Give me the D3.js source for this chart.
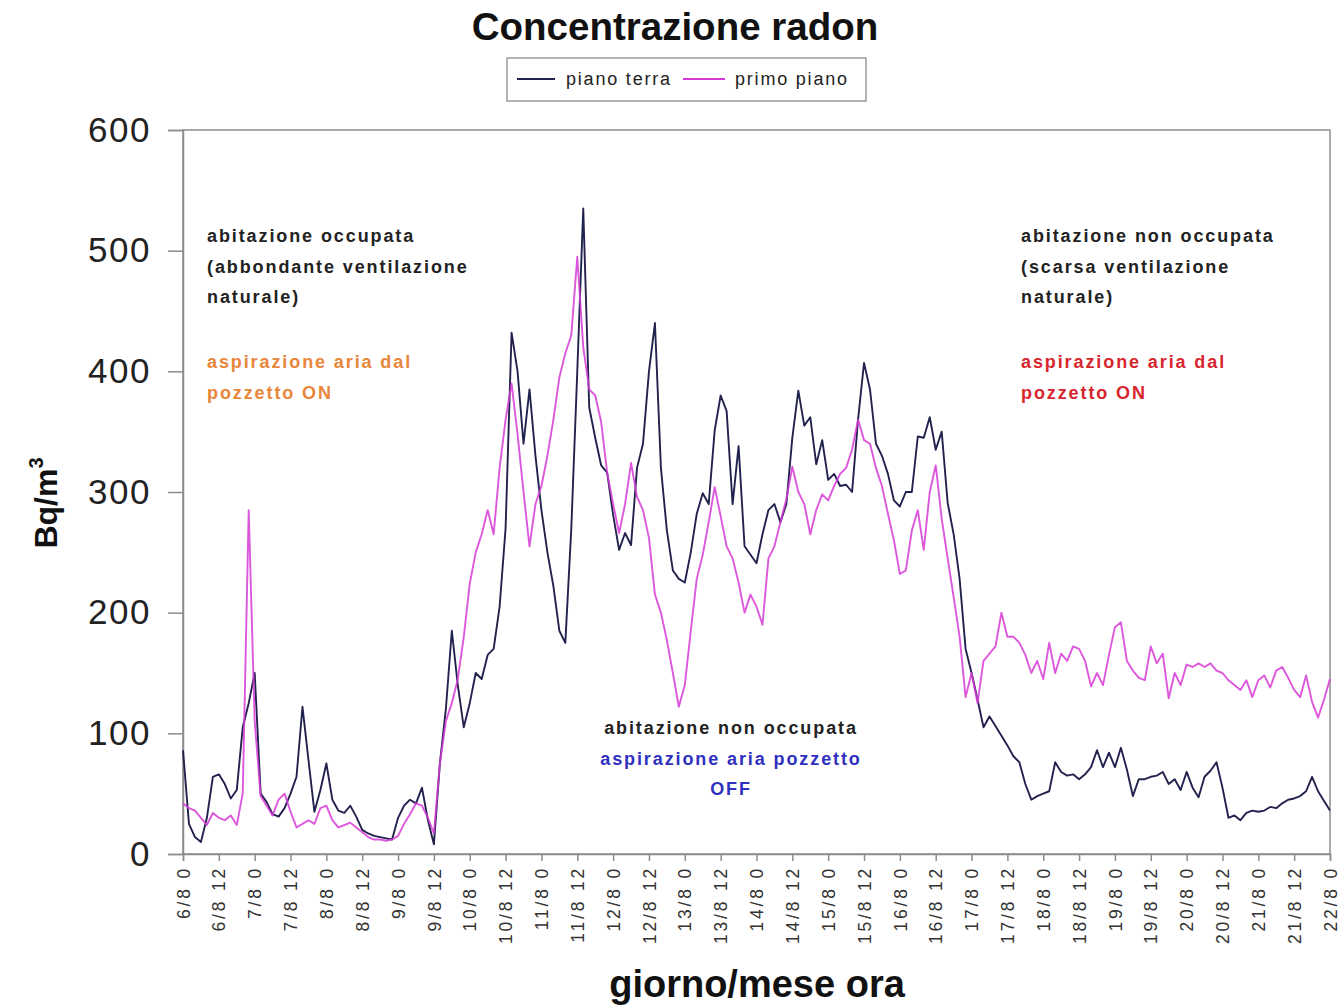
<!DOCTYPE html>
<html>
<head>
<meta charset="utf-8">
<script src="https://cdn.jsdelivr.net/npm/d3@7"></script>
<style>
  body { margin: 0; background: #fff; }
  svg { display: block; }
  text { font-family: "Liberation Sans", Arial, sans-serif; }
</style>
</head>
<body>
<svg id="chart" width="1340" height="1006"></svg>
<script>
// Radon concentration, one reading every 2 hours from 6/8 0:00 to 22/8 0:00
const stepHours = 2;

const tickLabels = [
  "6/8 0", "6/8 12", "7/8 0", "7/8 12", "8/8 0", "8/8 12", "9/8 0", "9/8 12",
  "10/8 0", "10/8 12", "11/8 0", "11/8 12", "12/8 0", "12/8 12", "13/8 0", "13/8 12",
  "14/8 0", "14/8 12", "15/8 0", "15/8 12", "16/8 0", "16/8 12", "17/8 0", "17/8 12",
  "18/8 0", "18/8 12", "19/8 0", "19/8 12", "20/8 0", "20/8 12", "21/8 0", "21/8 12",
  "22/8 0"
];

const yTicks = [0, 100, 200, 300, 400, 500, 600];

const seriesNames = ["piano terra", "primo piano"];

// Bq/m3, ground floor
const pianoTerra = [
  86, 25, 14, 10, 30, 64, 66, 58, 46, 53, 105, 125,
  150, 50, 43, 33, 31, 38, 50, 64, 122, 78, 35, 53,
  75, 45, 36, 34, 40, 31, 20, 17, 15, 14, 13, 12,
  30, 40, 45, 42, 55, 28, 8, 75, 120, 185, 140, 105,
  125, 150, 145, 165, 170, 205, 270, 432, 400, 340, 385, 330,
  285, 250, 222, 185, 175, 270, 400, 535, 370, 345, 322, 316,
  281, 252, 266, 256, 320, 340, 400, 440, 320, 268, 235, 228,
  225, 250, 282, 299, 290, 351, 380, 367, 290, 338, 255, 248,
  241, 265, 285, 290, 275, 290, 345, 384, 355, 362, 323, 343,
  310, 315, 305, 306, 300, 360, 407, 385, 340, 330, 315, 293,
  288, 300, 300, 346, 345, 362, 335, 350, 291, 265, 228, 170,
  150, 128, 105, 114, 106, 98, 90, 81, 76, 58, 45, 48,
  50, 52, 76, 68, 65, 66, 62, 66, 72, 86, 72, 84,
  72, 88, 70, 48, 62, 62, 64, 65, 68, 58, 62, 53,
  68, 55, 47, 64, 69, 76, 55, 30, 32, 28, 34, 36,
  35, 36, 39, 38, 42, 45, 46, 48, 52, 64, 52, 44,
  36
];

// Bq/m3, first floor
const primoPiano = [
  42, 38, 36, 30, 24, 34, 30, 28, 32, 24, 50, 285,
  110, 48, 40, 32, 45, 50, 35, 22, 25, 28, 25, 38,
  40, 28, 22, 24, 26, 22, 18, 14, 12, 12, 11, 12,
  15, 25, 33, 42, 40, 30, 17, 75, 110, 125, 145, 180,
  224, 250, 265, 285, 265, 320, 360, 390, 348, 300, 255, 290,
  305, 330, 360, 395, 415, 430, 495, 420, 385, 380, 358, 316,
  290, 266, 290, 324, 296, 285, 262, 215, 200, 177, 150, 122,
  140, 185, 228, 248, 275, 304, 280, 255, 245, 225, 200, 215,
  205, 190, 245, 255, 275, 294, 321, 300, 290, 265, 285, 298,
  293, 305, 315, 320, 335, 360, 343, 340, 320, 305, 282, 260,
  232, 235, 268, 285, 252, 300, 322, 278, 245, 213, 180, 130,
  150, 125, 160, 166, 172, 200, 180, 180, 175, 165, 150, 160,
  145, 175, 150, 166, 160, 172, 170, 160, 139, 150, 140, 165,
  188, 192, 160, 152, 146, 144, 172, 158, 166, 129, 150, 140,
  157, 155, 158, 155, 158, 152, 150, 144, 140, 136, 144, 130,
  144, 148, 138, 152, 155, 146, 136, 130, 148, 126, 113, 128,
  145
];

const colors = { terra: "#22224f", primo: "#d63ad6" };

const svg = d3.select("#chart");
const margin = { left: 183, right: 1330, top: 130, bottom: 854 };
const totalHours = (tickLabels.length - 1) * 12;

const x = d3.scaleLinear().domain([0, totalHours]).range([margin.left, margin.right]);
const y = d3.scaleLinear().domain([0, 600]).range([margin.bottom, margin.top]);

// Title
svg.append("text")
  .attr("x", 675).attr("y", 40)
  .attr("text-anchor", "middle")
  .style("font-size", "38.5px").style("font-weight", "bold").style("fill", "#111")
  .text("Concentrazione radon");

// Plot frame
svg.append("rect")
  .attr("x", margin.left).attr("y", margin.top)
  .attr("width", margin.right - margin.left).attr("height", margin.bottom - margin.top)
  .attr("fill", "none").attr("stroke", "#8c8c8c").attr("stroke-width", 1.5);

// Y axis
const yAxis = svg.append("g")
  .attr("transform", `translate(${margin.left},0)`)
  .call(d3.axisLeft(y).tickValues(yTicks).tickSize(15).tickPadding(17));
yAxis.select(".domain").attr("stroke", "#8c8c8c").attr("stroke-width", 1.5);
yAxis.selectAll(".tick line").attr("stroke", "#8c8c8c").attr("stroke-width", 1.5);
yAxis.selectAll(".tick text")
  .style("font-size", "35px").style("letter-spacing", "1.5px")
  .style("font-family", "'Liberation Sans', Arial, sans-serif")
  .attr("fill", "#222");

// X axis
const xTickValues = tickLabels.map((_, i) => i * 12);
const xAxis = svg.append("g")
  .attr("transform", `translate(0,${margin.bottom})`)
  .call(d3.axisBottom(x).tickValues(xTickValues).tickFormat((d, i) => tickLabels[i]).tickSize(7));
xAxis.select(".domain").attr("stroke", "#8c8c8c").attr("stroke-width", 1.5);
xAxis.selectAll(".tick line").attr("stroke", "#8c8c8c").attr("stroke-width", 1.5);
xAxis.selectAll(".tick text")
  .attr("transform", "rotate(-90)")
  .attr("text-anchor", "end")
  .attr("x", -12).attr("y", 0).attr("dy", "0.35em")
  .style("font-size", "17.5px").style("letter-spacing", "2.8px")
  .style("font-family", "'Liberation Sans', Arial, sans-serif")
  .attr("fill", "#333");

// Axis titles
const yTitle = svg.append("text")
  .attr("transform", "translate(57,503) rotate(-90)")
  .attr("text-anchor", "middle")
  .style("font-size", "32px").style("font-weight", "bold").style("fill", "#111");
yTitle.append("tspan").text("Bq/m");
yTitle.append("tspan").attr("dy", "-14").style("font-size", "20px").text("3");

svg.append("text")
  .attr("x", 757).attr("y", 997)
  .attr("text-anchor", "middle")
  .style("font-size", "38px").style("font-weight", "bold").style("fill", "#111")
  .text("giorno/mese ora");

// Series lines
const line = d3.line()
  .x((d, i) => x(i * stepHours))
  .y(d => y(d));

svg.append("path")
  .datum(pianoTerra)
  .attr("d", line)
  .attr("fill", "none").attr("stroke", colors.terra).attr("stroke-width", 1.9)
  .attr("stroke-linejoin", "round");

svg.append("path")
  .datum(primoPiano)
  .attr("d", line)
  .attr("fill", "none").attr("stroke", colors.primo).attr("stroke-width", 1.9)
  .attr("stroke-opacity", 0.85).attr("stroke-linejoin", "round");

// Legend
const legend = svg.append("g");
legend.append("rect")
  .attr("x", 507).attr("y", 58).attr("width", 359).attr("height", 43)
  .attr("fill", "#fff").attr("stroke", "#8c8c8c").attr("stroke-width", 1.3);
const legendItems = [
  { name: seriesNames[0], color: colors.terra, x0: 517, x1: 555, tx: 566 },
  { name: seriesNames[1], color: colors.primo, x0: 683, x1: 725, tx: 735 }
];
legendItems.forEach(it => {
  legend.append("line")
    .attr("x1", it.x0).attr("x2", it.x1).attr("y1", 79).attr("y2", 79)
    .attr("stroke", it.color).attr("stroke-width", 1.9);
  legend.append("text")
    .attr("x", it.tx).attr("y", 85)
    .style("font-size", "18px").style("letter-spacing", "1.8px").style("fill", "#222")
    .text(it.name);
});

// Annotations
const notes = [
  { x: 207, y: 242, anchor: "start", lines: [
    { t: "abitazione occupata", c: "#222" },
    { t: "(abbondante ventilazione", c: "#222" },
    { t: "naturale)", c: "#222" },
    { t: "", c: "#222" },
    { t: "aspirazione aria dal", c: "#e8863a" },
    { t: "pozzetto ON", c: "#e8863a" }
  ]},
  { x: 1021, y: 242, anchor: "start", lines: [
    { t: "abitazione non occupata", c: "#222" },
    { t: "(scarsa ventilazione", c: "#222" },
    { t: "naturale)", c: "#222" },
    { t: "", c: "#222" },
    { t: "aspirazione aria dal", c: "#d8262e" },
    { t: "pozzetto ON", c: "#d8262e" }
  ]},
  { x: 731, y: 734, anchor: "middle", lines: [
    { t: "abitazione non occupata", c: "#222" },
    { t: "aspirazione aria pozzetto", c: "#3030c0" },
    { t: "OFF", c: "#3030c0" }
  ]}
];
notes.forEach(n => {
  n.lines.forEach((ln, i) => {
    if (!ln.t) return;
    const extra = i >= 4 ? 3 : 0;
    svg.append("text")
      .attr("x", n.x).attr("y", n.y + i * 30.7 + extra)
      .attr("text-anchor", n.anchor)
      .style("font-size", "18px").style("font-weight", "bold")
      .style("letter-spacing", "1.9px")
      .style("fill", ln.c)
      .text(ln.t);
  });
});
</script>
</body>
</html>
